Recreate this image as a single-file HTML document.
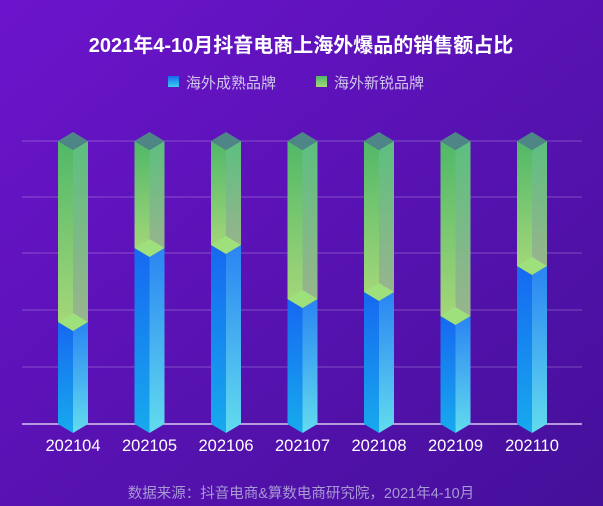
<!DOCTYPE html>
<html><head><meta charset="utf-8"><style>
body{margin:0;width:603px;height:506px;overflow:hidden;}
svg{display:block;font-family:"Liberation Sans","Noto Sans CJK SC",sans-serif;}
</style></head><body>
<svg width="603" height="506" viewBox="0 0 603 506">
<defs>
<linearGradient id="bg" x1="0" y1="0" x2="1" y2="1"><stop offset="0" stop-color="#6c14cc"/><stop offset="1" stop-color="#45109a"/></linearGradient>
<linearGradient id="bl" x1="0" y1="0" x2="0" y2="1"><stop offset="0" stop-color="#1668f0"/><stop offset="1" stop-color="#17aaee"/></linearGradient>
<linearGradient id="br" x1="0" y1="0" x2="0" y2="1"><stop offset="0" stop-color="#2a84f2"/><stop offset="1" stop-color="#62dcee"/></linearGradient>
<linearGradient id="gl" x1="0" y1="0" x2="0" y2="1"><stop offset="0" stop-color="#50b868"/><stop offset="1" stop-color="#a8d87a"/></linearGradient>
<linearGradient id="gr" x1="0" y1="0" x2="0" y2="1"><stop offset="0" stop-color="#5cbf80"/><stop offset="1" stop-color="#9cb48e"/></linearGradient>
<linearGradient id="lb" x1="0" y1="0" x2="0" y2="1"><stop offset="0" stop-color="#1668f0"/><stop offset="1" stop-color="#3ad0ee"/></linearGradient>
<linearGradient id="lg" x1="0" y1="0" x2="0" y2="1"><stop offset="0" stop-color="#50b868"/><stop offset="1" stop-color="#a8d87a"/></linearGradient>
</defs>
<rect width="603" height="506" fill="url(#bg)"/>
<text x="301" y="52" text-anchor="middle" fill="#fff" font-size="20" font-weight="bold">2021年4-10月抖音电商上海外爆品的销售额占比</text>
<rect x="168" y="76" width="11" height="11" fill="url(#lb)"/>
<text x="186" y="88" fill="#d0c6ec" font-size="15">海外成熟品牌</text>
<rect x="316" y="76" width="11" height="11" fill="url(#lg)"/>
<text x="334" y="88" fill="#d0c6ec" font-size="15">海外新锐品牌</text>
<g stroke="#ffffff" stroke-opacity="0.25" stroke-width="1">
<line x1="22" y1="141" x2="582" y2="141"/><line x1="22" y1="197" x2="582" y2="197"/><line x1="22" y1="253" x2="582" y2="253"/><line x1="22" y1="310" x2="582" y2="310"/><line x1="22" y1="367" x2="582" y2="367"/>
</g>
<line x1="22" y1="424" x2="582" y2="424" stroke="#d8c8f0" stroke-width="1.5"/>

<g transform="translate(73,0)">
<polygon points="-15,141 0,150 0,331 -15,322" fill="url(#gl)"/>
<polygon points="0,150 15,141 15,322 0,331" fill="url(#gr)"/>
<polygon points="-15,322 0,331 0,433 -15,424" fill="url(#bl)"/>
<polygon points="0,331 15,322 15,424 0,433" fill="url(#br)"/>
<polygon points="-15,322 0,313 15,322 0,331" fill="#9ee07c"/>
<polygon points="-15,141 0,132 15,141 0,150" fill="#4e8688"/>
</g>
<g transform="translate(149.5,0)">
<polygon points="-15,141 0,150 0,257 -15,248" fill="url(#gl)"/>
<polygon points="0,150 15,141 15,248 0,257" fill="url(#gr)"/>
<polygon points="-15,248 0,257 0,433 -15,424" fill="url(#bl)"/>
<polygon points="0,257 15,248 15,424 0,433" fill="url(#br)"/>
<polygon points="-15,248 0,239 15,248 0,257" fill="#9ee07c"/>
<polygon points="-15,141 0,132 15,141 0,150" fill="#4e8688"/>
</g>
<g transform="translate(226,0)">
<polygon points="-15,141 0,150 0,254 -15,245" fill="url(#gl)"/>
<polygon points="0,150 15,141 15,245 0,254" fill="url(#gr)"/>
<polygon points="-15,245 0,254 0,433 -15,424" fill="url(#bl)"/>
<polygon points="0,254 15,245 15,424 0,433" fill="url(#br)"/>
<polygon points="-15,245 0,236 15,245 0,254" fill="#9ee07c"/>
<polygon points="-15,141 0,132 15,141 0,150" fill="#4e8688"/>
</g>
<g transform="translate(302.5,0)">
<polygon points="-15,141 0,150 0,308 -15,299" fill="url(#gl)"/>
<polygon points="0,150 15,141 15,299 0,308" fill="url(#gr)"/>
<polygon points="-15,299 0,308 0,433 -15,424" fill="url(#bl)"/>
<polygon points="0,308 15,299 15,424 0,433" fill="url(#br)"/>
<polygon points="-15,299 0,290 15,299 0,308" fill="#9ee07c"/>
<polygon points="-15,141 0,132 15,141 0,150" fill="#4e8688"/>
</g>
<g transform="translate(379,0)">
<polygon points="-15,141 0,150 0,301 -15,292" fill="url(#gl)"/>
<polygon points="0,150 15,141 15,292 0,301" fill="url(#gr)"/>
<polygon points="-15,292 0,301 0,433 -15,424" fill="url(#bl)"/>
<polygon points="0,301 15,292 15,424 0,433" fill="url(#br)"/>
<polygon points="-15,292 0,283 15,292 0,301" fill="#9ee07c"/>
<polygon points="-15,141 0,132 15,141 0,150" fill="#4e8688"/>
</g>
<g transform="translate(455.5,0)">
<polygon points="-15,141 0,150 0,325 -15,316" fill="url(#gl)"/>
<polygon points="0,150 15,141 15,316 0,325" fill="url(#gr)"/>
<polygon points="-15,316 0,325 0,433 -15,424" fill="url(#bl)"/>
<polygon points="0,325 15,316 15,424 0,433" fill="url(#br)"/>
<polygon points="-15,316 0,307 15,316 0,325" fill="#9ee07c"/>
<polygon points="-15,141 0,132 15,141 0,150" fill="#4e8688"/>
</g>
<g transform="translate(532,0)">
<polygon points="-15,141 0,150 0,275 -15,266" fill="url(#gl)"/>
<polygon points="0,150 15,141 15,266 0,275" fill="url(#gr)"/>
<polygon points="-15,266 0,275 0,433 -15,424" fill="url(#bl)"/>
<polygon points="0,275 15,266 15,424 0,433" fill="url(#br)"/>
<polygon points="-15,266 0,257 15,266 0,275" fill="#9ee07c"/>
<polygon points="-15,141 0,132 15,141 0,150" fill="#4e8688"/>
</g>

<g fill="#fff" font-size="16.5" text-anchor="middle">
<text x="73" y="451">202104</text><text x="149.5" y="451">202105</text><text x="226" y="451">202106</text><text x="302.5" y="451">202107</text><text x="379" y="451">202108</text><text x="455.5" y="451">202109</text><text x="532" y="451">202110</text>
</g>
<text x="301" y="498" text-anchor="middle" fill="#a898d4" font-size="14.5">数据来源：抖音电商&amp;算数电商研究院，2021年4-10月</text>
</svg>
</body></html>
